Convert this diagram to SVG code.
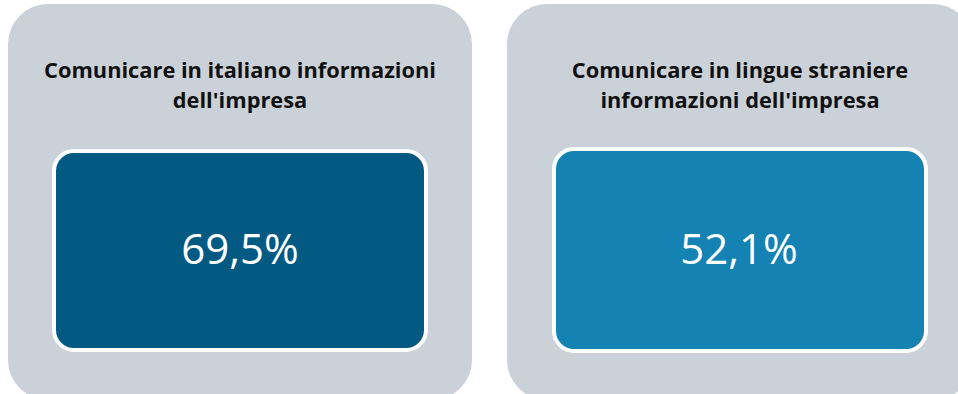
<svg xmlns="http://www.w3.org/2000/svg" width="958" height="394" viewBox="0 0 958 394">
<style>
.panel{fill:#CBD1D9}
.box{stroke:#FFFFFF;stroke-width:4}
.title{font-family:"Open Sans","Liberation Sans",sans-serif;font-weight:bold;font-size:21.8px;fill:#111111;text-anchor:middle}
.val{font-family:"Open Sans","Liberation Sans",sans-serif;font-size:42px;fill:#FFFFFF;text-anchor:middle}
</style>
<rect width="958" height="394" fill="#FFFFFF"/>
<g id="panel-italiano">
<rect class="panel" x="8" y="4" width="464" height="396" rx="40"/>
<text class="title" x="240" y="78">Comunicare in italiano informazioni</text>
<text class="title" x="240" y="108">dell'impresa</text>
<rect class="box" x="54" y="151" width="372" height="199" rx="20" fill="#025A82"/>
<text class="val" x="240" y="264">69,5%</text>
</g>
<g id="panel-straniere">
<rect class="panel" x="507" y="4" width="466" height="396" rx="40"/>
<text class="title" x="740" y="78">Comunicare in lingue straniere</text>
<text class="title" x="740" y="108">informazioni dell'impresa</text>
<rect class="box" x="554" y="149" width="372" height="202" rx="20" fill="#1482B3"/>
<text class="val" x="739" y="264">52,1%</text>
</g>
<g id="connectors"/>
</svg>
